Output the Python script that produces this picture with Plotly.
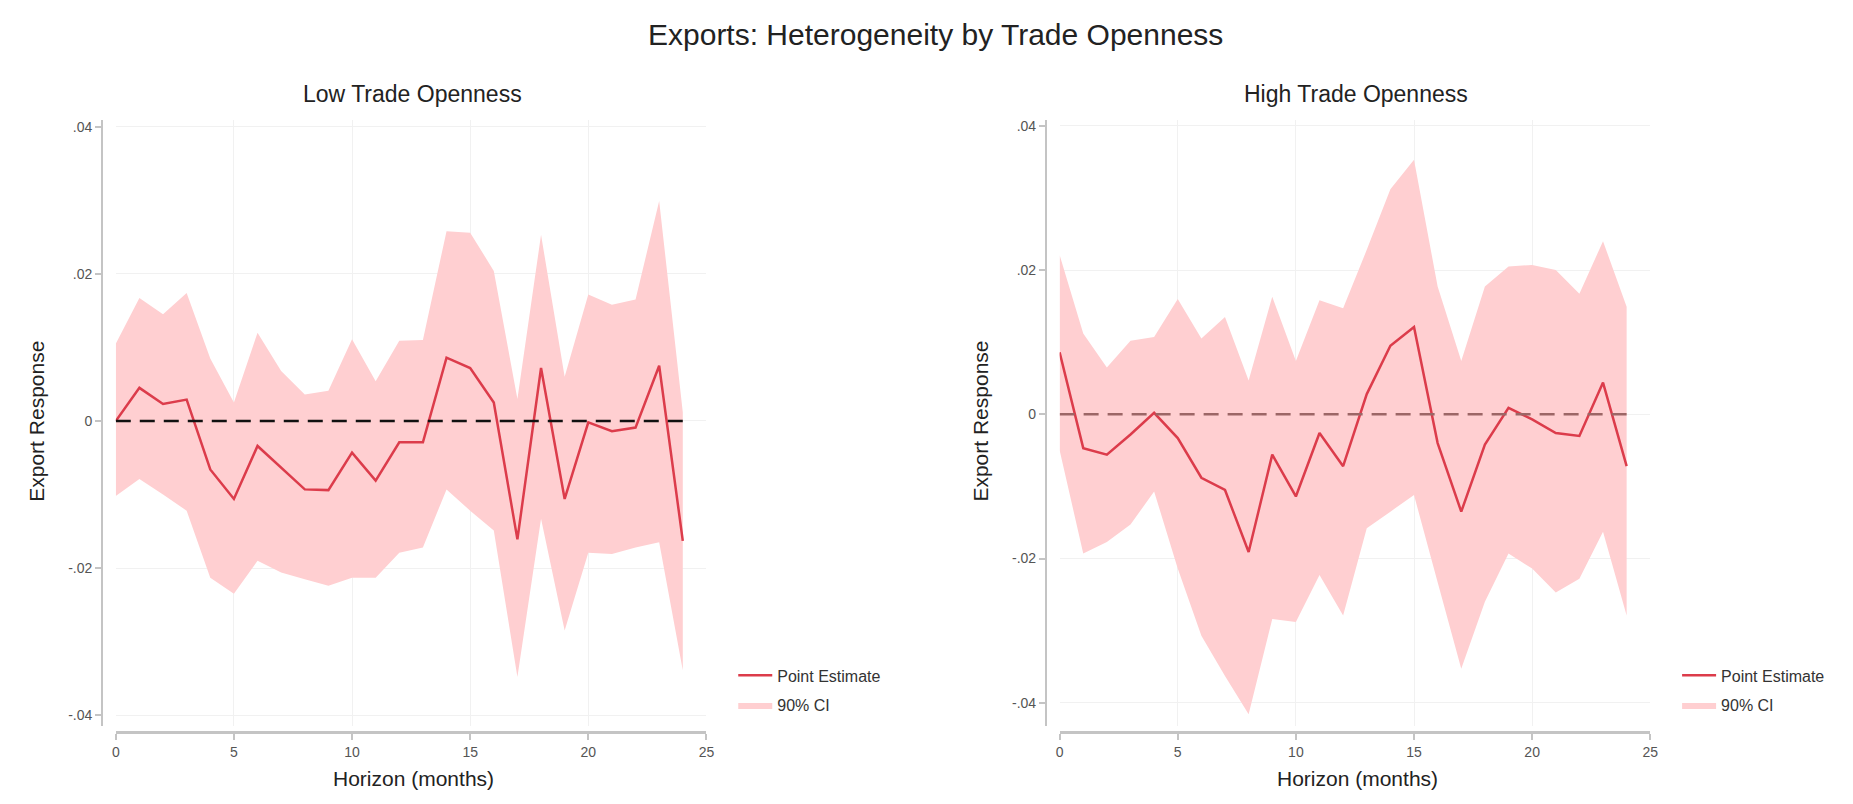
import plotly.graph_objects as go

# Local-projection responses of exports, split by trade openness
horizon = list(range(25))

low_point = [0.0000, 0.0045, 0.0023, 0.0029, -0.0066, -0.0106, -0.0034, -0.0064,
             -0.0093, -0.0094, -0.0043, -0.0081, -0.0029, -0.0029, 0.0086, 0.0072,
             0.0025, -0.0161, 0.0072, -0.0106, -0.0002, -0.0014, -0.0009, 0.0075,
             -0.0163]
low_upper = [0.0105, 0.0167, 0.0145, 0.0174, 0.0085, 0.0025, 0.0120, 0.0068,
             0.0036, 0.0041, 0.0111, 0.0054, 0.0109, 0.0110, 0.0258, 0.0256,
             0.0204, 0.0030, 0.0253, 0.0060, 0.0172, 0.0158, 0.0165, 0.0299,
             0.0012]
low_lower = [-0.0102, -0.0079, -0.0100, -0.0122, -0.0213, -0.0235, -0.0190, -0.0206,
             -0.0215, -0.0224, -0.0213, -0.0213, -0.0179, -0.0172, -0.0093, -0.0122,
             -0.0149, -0.0348, -0.0133, -0.0285, -0.0179, -0.0181, -0.0172, -0.0165,
             -0.0339]

high_point = [0.0086, -0.0047, -0.0056, -0.0028, 0.0002, -0.0033, -0.0088, -0.0105,
              -0.0191, -0.0056, -0.0114, -0.0026, -0.0072, 0.0028, 0.0095, 0.0121,
              -0.0040, -0.0135, -0.0042, 0.0009, -0.0007, -0.0026, -0.0030, 0.0044,
              -0.0072]
high_upper = [0.0221, 0.0112, 0.0065, 0.0102, 0.0107, 0.0160, 0.0105, 0.0135,
              0.0047, 0.0163, 0.0074, 0.0158, 0.0147, 0.0228, 0.0312, 0.0353,
              0.0177, 0.0074, 0.0177, 0.0205, 0.0207, 0.0200, 0.0167, 0.0240,
              0.0149]
high_lower = [-0.0050, -0.0193, -0.0177, -0.0153, -0.0107, -0.0214, -0.0307, -0.0363,
              -0.0416, -0.0284, -0.0288, -0.0223, -0.0279, -0.0158, -0.0135, -0.0112,
              -0.0233, -0.0353, -0.0260, -0.0193, -0.0214, -0.0247, -0.0228, -0.0163,
              -0.0279]

x_ticks = [0, 5, 10, 15, 20, 25]
y_ticks = [-0.04, -0.02, 0, 0.02, 0.04]
y_tick_labels = ["-.04", "-.02", "0", ".02", ".04"]

panel_titles = ["Low Trade Openness", "High Trade Openness"]
main_title = "Exports: Heterogeneity by Trade Openness"
x_title = "Horizon (months)"
y_title = "Export Response"

FONT = "Liberation Sans, Arial, Helvetica, sans-serif"
LINE_RED = "#DC3C4B"
CI_PINK = "#FFCFD1"
AXIS_GRAY = "#c4c4c4"
GRID = "#f1f1f1"

W, H = 1853, 804


def px_x(v):
    return v / W


def px_y(v):
    return 1 - v / H


fig = go.Figure()

panels = [
    dict(point=low_point, upper=low_upper, lower=low_lower, xa="x", ya="y",
         legend="legend", zero_color="#111111"),
    dict(point=high_point, upper=high_upper, lower=high_lower, xa="x2", ya="y2",
         legend="legend2", zero_color="#9c6666"),
]

for p in panels:
    fig.add_trace(go.Scatter(
        x=horizon, y=p["lower"], mode="lines", line=dict(width=0, color=CI_PINK),
        showlegend=False, hoverinfo="skip", xaxis=p["xa"], yaxis=p["ya"],
    ))
    fig.add_trace(go.Scatter(
        x=horizon, y=p["upper"], mode="lines", line=dict(width=0, color=CI_PINK),
        fill="tonexty", fillcolor=CI_PINK, name="90% CI", legendrank=2,
        legendgroup="ci", legend=p["legend"], xaxis=p["xa"], yaxis=p["ya"],
    ))
    fig.add_trace(go.Scatter(
        x=horizon, y=p["point"], mode="lines", line=dict(width=2.5, color=LINE_RED),
        name="Point Estimate", legendrank=1, legendgroup="pe", legend=p["legend"],
        xaxis=p["xa"], yaxis=p["ya"],
    ))
    # zero reference line
    fig.add_shape(type="line", xref=p["xa"], yref=p["ya"], x0=horizon[0], x1=horizon[-1],
                  y0=0, y1=0, layer="above",
                  line=dict(color=p["zero_color"], width=2.5, dash="15px,9px"))

common_x = dict(
    range=[0, 25], tickvals=x_ticks, ticks="outside", ticklen=6, tickwidth=1.5,
    tickcolor=AXIS_GRAY, showline=True, linecolor=AXIS_GRAY, linewidth=3,
    showgrid=True, gridcolor=GRID, gridwidth=1, zeroline=False,
    tickfont=dict(size=14, color="#555555", family=FONT), anchor="free",
    position=px_y(731.7),
)
common_y = dict(
    tickvals=y_ticks, ticktext=y_tick_labels, ticks="outside", ticklen=6, tickwidth=1.5,
    tickcolor=AXIS_GRAY, showline=True, linecolor=AXIS_GRAY, linewidth=2,
    showgrid=True, gridcolor=GRID, gridwidth=1, zeroline=False,
    tickfont=dict(size=14, color="#555555", family=FONT), anchor="free",
    domain=[px_y(726), px_y(118)],
)

fig.update_layout(
    xaxis=dict(common_x, domain=[px_x(112.5), px_x(707)]),
    xaxis2=dict(common_x, domain=[px_x(1062.5), px_x(1657)]),
    yaxis=dict(common_y, range=[-(726 - 420) / 7375, (420 - 118) / 7375],
               position=px_x(98.7)),
    yaxis2=dict(common_y, range=[-(726 - 413.3) / 7230, (413.3 - 118) / 7230],
                position=px_x(1048.7)),
)

legend_common = dict(
    font=dict(size=16, color="#333333", family=FONT), bgcolor="rgba(0,0,0,0)",
    xanchor="left", yanchor="top", traceorder="grouped", tracegroupgap=6,
    itemwidth=34,
)
fig.update_layout(
    legend=dict(legend_common, x=px_x(734), y=px_y(658)),
    legend2=dict(legend_common, x=px_x(1684), y=px_y(658)),
)

annotations = [
    dict(text=main_title, x=px_x(938), y=px_y(33), font=dict(size=30, color="#222222")),
    dict(text=panel_titles[0], x=px_x(411), y=px_y(92), font=dict(size=23, color="#222222")),
    dict(text=panel_titles[1], x=px_x(1361), y=px_y(92), font=dict(size=23, color="#222222")),
    dict(text=x_title, x=px_x(412), y=px_y(778), font=dict(size=21, color="#222222")),
    dict(text=x_title, x=px_x(1362), y=px_y(778), font=dict(size=21, color="#222222")),
    dict(text=y_title, x=px_x(33), y=px_y(420), textangle=-90,
         font=dict(size=21, color="#222222")),
    dict(text=y_title, x=px_x(983), y=px_y(420), textangle=-90,
         font=dict(size=21, color="#222222")),
]
for a in annotations:
    a.update(xref="paper", yref="paper", showarrow=False, xanchor="center",
             yanchor="middle")
    a["font"]["family"] = FONT

fig.update_layout(
    annotations=annotations,
    width=W, height=H,
    margin=dict(l=0, r=0, t=0, b=0),
    paper_bgcolor="white", plot_bgcolor="white",
    font=dict(family=FONT),
    showlegend=True,
)

fig.write_html("out.html")
